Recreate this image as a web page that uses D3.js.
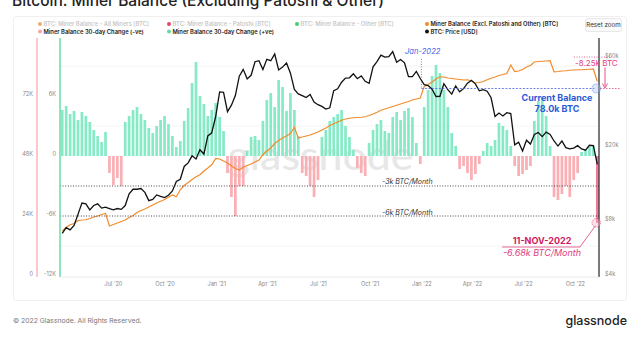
<!DOCTYPE html>
<html><head><meta charset="utf-8">
<script src="https://cdn.jsdelivr.net/npm/d3@7"></script>
<style>
html,body{margin:0;padding:0;background:#fff;}
svg{display:block;font-family:Inter,"Noto Sans",sans-serif;}
</style></head><body>
<svg id="c" width="640" height="339"></svg>
<script>
// ---------------- DATA (weekly samples) ----------------
const startDate = "2020-04-02";
const priceK = [
 6.8,7.3,7.1,7.5,8.6,9.9,9.8,9.1,9.6,9.8,
 9.3,9.4,9.25,9.1,9.25,9.15,9.6,11.1,11.75,11.75,
 11.85,11.3,10.2,10.35,10.95,10.75,10.6,10.9,11.5,12.95,
 13.3,15.6,16.3,17.8,17.1,19.2,18.2,22.8,23.7,29.0,
 39.4,39.2,30.8,33.4,37.6,47.9,52.1,46.3,48.4,57.3,
 58.0,52.0,59.0,58.0,63.0,51.7,53.6,56.4,49.7,40.6,
 38.4,37.6,36.7,38.1,34.7,33.6,32.9,31.8,32.3,40.0,
 40.9,44.4,46.7,46.9,49.3,46.4,48.0,44.9,43.8,53.8,
 57.4,62.2,60.6,61.0,64.9,56.9,58.9,56.5,47.6,47.6,
 50.8,46.5,43.1,42.6,40.7,37.2,37.3,43.6,40.5,38.3,
 42.4,39.4,41.0,43.9,45.5,43.5,39.9,40.5,39.7,36.6,
 29.0,30.3,29.2,30.4,30.1,20.4,21.1,18.9,21.6,20.6,
 23.2,23.8,22.6,23.9,23.2,21.4,20.1,21.4,19.7,19.4,
 19.6,20.2,19.4,19.1,20.3,20.2,16.0];
const minerBalanceK = [
 18.0,19.5,20.5,21.0,22.2,22.4,22.5,23.0,23.6,24.0,
 24.6,25.0,20.0,20.6,21.2,21.8,22.4,23.4,24.2,25.4,
 26.2,26.8,27.6,28.4,29.2,29.9,30.6,31.5,32.4,31.7,
 34.5,36.2,37.4,38.6,39.7,40.5,42.0,43.2,44.5,47.0,
 46.8,46.0,45.2,44.0,43.0,42.4,43.5,44.2,44.8,45.6,
 46.4,48.5,50.0,51.2,53.0,54.2,55.2,56.0,57.0,59.5,
 55.2,55.6,56.0,56.4,57.0,57.6,58.4,59.2,60.2,60.9,
 61.6,62.3,62.8,63.1,63.3,63.4,63.5,63.7,64.2,64.8,
 65.5,66.3,66.8,67.3,67.8,68.3,68.8,69.3,69.8,70.4,
 70.8,71.2,75.8,76.6,77.6,78.8,79.7,79.6,79.2,79.0,
 78.8,78.6,78.4,78.5,78.0,77.2,77.4,77.8,78.5,79.1,
 79.6,80.2,80.6,81.0,84.4,81.8,82.0,82.6,83.6,84.2,
 85.6,85.8,85.9,86.0,86.1,81.7,81.8,82.0,82.1,82.3,
 82.4,82.5,82.5,82.6,82.7,82.8,77.8];
const change30dK = [
 4.6,5.0,4.2,4.5,3.6,4.4,4.0,3.4,2.6,2.0,
 1.4,2.4,-1.7,-2.9,-2.2,-3.0,3.4,4.0,4.6,4.9,
 4.2,3.6,2.8,2.3,3.0,3.6,4.0,3.2,2.0,0.9,
 1.5,3.5,4.8,7.3,9.4,6.0,5.2,4.0,4.6,5.3,
 3.9,2.5,-1.7,-4.1,-6.0,-3.0,-3.0,0.5,1.9,2.0,
 1.6,3.5,5.6,6.3,4.9,7.6,6.9,4.5,6.3,4.6,
 2.0,-1.7,-2.0,-3.0,-4.1,-2.4,1.9,2.6,3.5,3.9,
 4.2,4.6,3.0,1.9,0.6,-1.2,-1.7,-2.0,1.3,2.6,
 3.2,3.6,2.5,2.3,3.9,4.4,3.6,4.5,4.8,3.9,
 1.3,-0.8,4.9,6.6,8.0,9.1,8.3,6.6,4.9,2.3,
 1.0,-1.3,-1.0,-1.7,-2.4,-1.8,-0.8,0.5,1.3,1.0,
 1.6,3.3,3.0,2.6,1.0,-1.0,-2.0,-1.8,-1.4,-1.0,
 3.5,5.5,5.9,4.0,1.0,-4.1,-4.4,-3.8,-3.0,-4.1,
 -2.4,-1.7,0.4,0.6,0.9,1.0,-6.68];
const balanceTicks = [0, 24000, 48000, 72000];
const changeTicks = [-12000, -6000, 0, 6000];
const priceTicks = [4000, 8000, 20000, 60000];
const dateTicks = ["2020-07-01","2020-10-01","2021-01-01","2021-04-01","2021-07-01","2021-10-01","2022-01-01","2022-04-01","2022-07-01","2022-10-01"];
const dateTickLabels = ["Jul '20","Oct '20","Jan '21","Apr '21","Jul '21","Oct '21","Jan '22","Apr '22","Jul '22","Oct '22"];
const legendLabels = [
 "BTC: Miner Balance - All Miners [BTC]","BTC: Miner Balance - Patoshi [BTC]","BTC: Miner Balance - Other [BTC]","Miner Balance (Excl. Patoshi and Other) [BTC]",
 "Miner Balance 30-day Change (-ve)","Miner Balance 30-day Change (+ve)","BTC: Price [USD]"];
const legendColors = ["#ee9a55","#e0245e","#22c55e","#f28b2c","#f7a1a8","#5fd9a5","#111"];
const legendActive = [false,false,false,true,true,true,true];

// ---------------- CHART ----------------
const svg = d3.select("#c");
const parse = d3.utcParse("%Y-%m-%d");
const t0 = parse(startDate);
const dates = change30dK.map((_, i) => d3.utcDay.offset(t0, 7 * i));
const L = 60, R = 599, T = 38, B = 276;

const x = d3.scaleUtc().domain([parse("2020-03-29"), parse("2022-11-13")]).range([L, R]);
const yBal = d3.scaleLinear().domain([0, 72000]).range([B, 96]);
const yChg = d3.scaleLinear().domain([-12000, 6000]).range([B, 96]);
const yPx = d3.scaleLog().domain([4000, 60000]).range([B, B - 55.8 * Math.log2(15)]);

// title
svg.append("text").attr("x", 12).attr("y", 6).attr("font-size", 15.5).attr("font-weight", 500)
  .attr("fill", "#222").text("Bitcoin: Miner Balance (Excluding Patoshi & Other)");
// chart frame
svg.append("rect").attr("x", 13.5).attr("y", 16.5).attr("width", 613).attr("height", 284)
  .attr("rx", 3).attr("fill", "none").attr("stroke", "#efefef");
// reset zoom
svg.append("rect").attr("x", 585.5).attr("y", 18.5).attr("width", 36).attr("height", 13)
  .attr("rx", 2).attr("fill", "#fafafa").attr("stroke", "#e8e8e8");
svg.append("text").attr("x", 603.5).attr("y", 27.3).attr("text-anchor", "middle")
  .attr("font-size", 6.2).attr("fill", "#333").text("Reset zoom");

// legend
const legPos = [[40,26],[169,26],[297,26],[427,26],[40,33.5],[169,33.5],[427,33.5]];
legendLabels.forEach((lab, i) => {
  const [lx, ly] = legPos[i];
  svg.append("circle").attr("cx", lx).attr("cy", ly - 1.9).attr("r", 2)
    .attr("fill", legendColors[i]).attr("opacity", legendActive[i] ? 1 : 0.85);
  svg.append("text").attr("x", lx + 3.5).attr("y", ly).attr("font-size", 5.8)
    .attr("font-weight", 600).attr("fill", legendActive[i] ? "#222" : "#c9c9c9").text(lab);
});

// gridlines
[-9000, 3000, 9000].forEach(v => {
  svg.append("line").attr("x1", L).attr("x2", R).attr("y1", yChg(v)).attr("y2", yChg(v))
    .attr("stroke", "#f1f1f1").attr("stroke-width", 0.8);
});

// watermark
svg.append("text").attr("x", 320.5).attr("y", 170).attr("text-anchor", "middle")
  .attr("font-size", 40).attr("font-family", "Lato, 'Open Sans', sans-serif").attr("font-weight", 500)
  .attr("textLength", 186).attr("lengthAdjust", "spacingAndGlyphs")
  .attr("fill", "#000").attr("opacity", 0.09).text("glassnode");

svg.append("defs").append("clipPath").attr("id", "clip")
  .append("rect").attr("x", L).attr("y", T).attr("width", R - L).attr("height", B - T + 1);
const plot = svg.append("g").attr("clip-path", "url(#clip)");

// bars
const bw = 2.7;
plot.selectAll("rect.bar").data(change30dK).join("rect").attr("class", "bar")
  .attr("x", (d, i) => x(dates[i]) - bw / 2)
  .attr("width", bw)
  .attr("y", d => d >= 0 ? yChg(d * 1000) : yChg(0))
  .attr("height", d => Math.abs(yChg(d * 1000) - yChg(0)))
  .attr("fill", (d, i) => d >= 0 ? "#86eac6" : (i === change30dK.length - 1 ? "#f07a98" : "#f9afb4"));

// dotted reference lines
[-3000, -6000].forEach(v => {
  svg.append("line").attr("x1", L).attr("x2", R).attr("y1", yChg(v)).attr("y2", yChg(v))
    .attr("stroke", "#333").attr("stroke-width", 0.9).attr("stroke-dasharray", "1,1.6");
});

// balance line
plot.append("path").datum(minerBalanceK)
  .attr("d", d3.line().x((d, i) => x(dates[i])).y(d => yBal(d * 1000)))
  .attr("fill", "none").attr("stroke", "#f28b2c").attr("stroke-width", 1.2);
// price line
plot.append("path").datum(priceK)
  .attr("d", d3.line().x((d, i) => x(dates[i])).y(d => yPx(d * 1000)))
  .attr("fill", "none").attr("stroke", "#111").attr("stroke-width", 1.3);

// axes lines
svg.append("line").attr("x1", 37).attr("x2", 37).attr("y1", T).attr("y2", B + 1).attr("stroke", "#f5a3aa").attr("stroke-width", 1.2);
svg.append("line").attr("x1", L).attr("x2", L).attr("y1", T).attr("y2", B + 1).attr("stroke", "#5fd9a5").attr("stroke-width", 1.4);
svg.append("line").attr("x1", R).attr("x2", R).attr("y1", T).attr("y2", B + 1).attr("stroke", "#222").attr("stroke-width", 1.2);
svg.append("line").attr("x1", L).attr("x2", R).attr("y1", B + 1).attr("y2", B + 1).attr("stroke", "#e6e6e6").attr("stroke-width", 0.8);

function styleAxis(g) {
  g.select(".domain").remove();
  g.selectAll("text").attr("font-size", 5.6).attr("fill", "#888").attr("font-family", "Inter, sans-serif");
}
const kfmt = d => d === 0 ? "0" : (d / 1000) + "K";
svg.append("g").attr("transform", "translate(37,-1.8)")
  .call(d3.axisLeft(yBal).tickValues(balanceTicks).tickFormat(kfmt).tickSize(0).tickPadding(4)).call(styleAxis);
svg.append("g").attr("transform", "translate(60,-1.8)")
  .call(d3.axisLeft(yChg).tickValues(changeTicks).tickFormat(kfmt).tickSize(0).tickPadding(4)).call(styleAxis);
svg.append("g").attr("transform", `translate(${R},-1.8)`)
  .call(d3.axisRight(yPx).tickValues(priceTicks).tickFormat(d => "$" + (d / 1000) + "k").tickSize(0).tickPadding(6)).call(styleAxis);
svg.append("g").attr("transform", `translate(0,${B + 1})`)
  .call(d3.axisBottom(x).tickValues(dateTicks.map(parse)).tickFormat((d, i) => dateTickLabels[i]).tickSize(0).tickPadding(5)).call(styleAxis);

// ---------------- ANNOTATIONS ----------------
const blue = "#2a5ad8", pink = "#e0407f";
const lastX = x(dates[dates.length - 1]);
const curY = yBal(75000);
const janX = x(parse("2022-01-01"));
svg.append("text").attr("x", 405).attr("y", 54).attr("font-size", 7.6).attr("font-style", "italic")
  .attr("fill", "#4a63e0").text("Jan-2022");
svg.append("line").attr("x1", janX).attr("x2", janX).attr("y1", 59).attr("y2", curY)
  .attr("stroke", "#4a63e0").attr("stroke-width", 0.8).attr("stroke-dasharray", "1,1.5");
svg.append("line").attr("x1", janX).attr("x2", lastX - 3).attr("y1", curY).attr("y2", curY)
  .attr("stroke", "#4a63e0").attr("stroke-width", 0.8).attr("stroke-dasharray", "2,1.5");
svg.append("circle").attr("cx", lastX - 1).attr("cy", curY).attr("r", 4.5)
  .attr("fill", "#9fb8f0").attr("fill-opacity", 0.35).attr("stroke", "#4a7be0").attr("stroke-width", 0.7).attr("stroke-dasharray", "1.2,1");
svg.append("text").attr("x", 557).attr("y", 100.5).attr("text-anchor", "middle").attr("font-size", 9)
  .attr("font-weight", 700).attr("fill", blue).text("Current Balance");
svg.append("text").attr("x", 557).attr("y", 111.5).attr("text-anchor", "middle").attr("font-size", 9)
  .attr("font-weight", 700).attr("fill", blue).text("78.0k BTC");

// -8.25k annotation
svg.append("line").attr("x1", 574).attr("x2", 612).attr("y1", 57).attr("y2", 57)
  .attr("stroke", pink).attr("stroke-width", 0.8).attr("stroke-dasharray", "1,1.5");
svg.append("text").attr("x", 575).attr("y", 66).attr("font-size", 8).attr("fill", pink).text("-8.25k BTC");
svg.append("line").attr("x1", 605).attr("x2", 605).attr("y1", 67.5).attr("y2", 86)
  .attr("stroke", pink).attr("stroke-width", 0.9);
svg.append("path").attr("d", "M602.5,83.5 L605,88 L607.5,83.5").attr("fill", "none").attr("stroke", pink).attr("stroke-width", 0.9);
svg.append("line").attr("x1", 600).attr("x2", 621).attr("y1", curY).attr("y2", curY)
  .attr("stroke", pink).attr("stroke-width", 0.8).attr("stroke-dasharray", "1.5,1.5");

// BTC/Month labels
svg.append("text").attr("x", 382).attr("y", 183.5).attr("font-size", 7).attr("font-style", "italic")
  .attr("fill", "#333").text("-3k BTC/Month");
svg.append("text").attr("x", 382).attr("y", 214.5).attr("font-size", 7).attr("font-style", "italic")
  .attr("fill", "#333").text("-6k BTC/Month");

// 11-NOV-2022 annotation
const spY = yChg(-6680);
svg.append("circle").attr("cx", lastX - 1).attr("cy", spY).attr("r", 4.3)
  .attr("fill", "#f7b3c8").attr("fill-opacity", 0.4).attr("stroke", pink).attr("stroke-width", 0.7).attr("stroke-dasharray", "1.2,1");
svg.append("path").attr("d", `M502,247 L580,247 L${lastX - 2},${spY + 3}`)
  .attr("fill", "none").attr("stroke", pink).attr("stroke-width", 0.8);
svg.append("text").attr("x", 542).attr("y", 243.5).attr("text-anchor", "middle").attr("font-size", 9)
  .attr("font-weight", 700).attr("fill", "#d0195e").text("11-NOV-2022");
svg.append("text").attr("x", 542).attr("y", 255.5).attr("text-anchor", "middle").attr("font-size", 9)
  .attr("font-style", "italic").attr("fill", pink).text("-6.68k BTC/Month");

// footer
svg.append("text").attr("x", 13).attr("y", 323).attr("font-size", 6.8).attr("fill", "#777")
  .text("© 2022 Glassnode. All Rights Reserved.");
svg.append("text").attr("x", 627).attr("y", 325).attr("text-anchor", "end").attr("font-size", 12.5)
  .attr("font-weight", 500).attr("fill", "#222").text("glassnode");
</script>
</body></html>
